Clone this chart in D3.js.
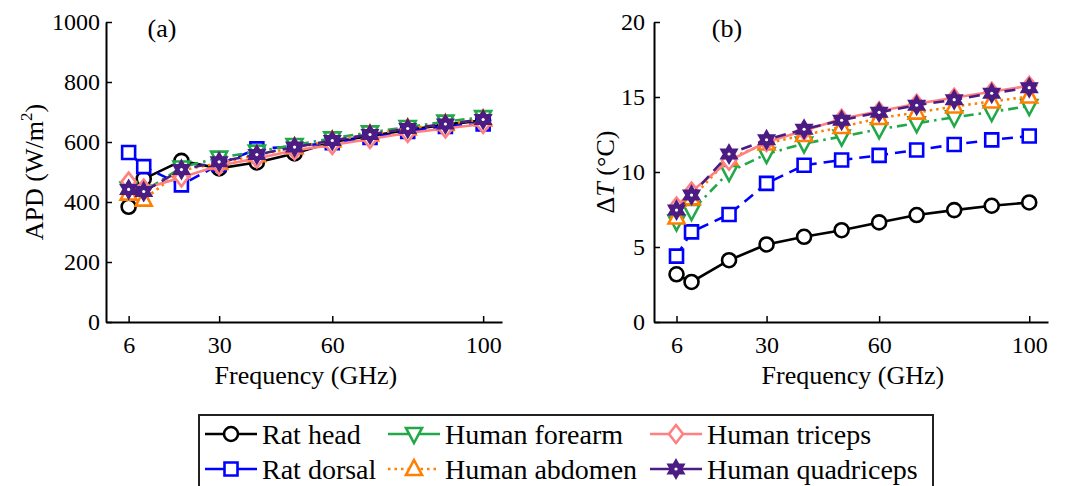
<!DOCTYPE html>
<html>
<head>
<meta charset="utf-8">
<script src="https://cdn.jsdelivr.net/npm/d3@7"></script>
<style>
  body { margin: 0; background: #fff; }
</style>
</head>
<body>
<div class="chart"></div>
<script>
// frequencies (GHz)
var freq = [6, 10, 20, 30, 40, 50, 60, 70, 80, 90, 100];
var xTicks = [6, 30, 60, 100];

var names = ["Rat head", "Rat dorsal", "Human forearm", "Human abdomen", "Human triceps", "Human quadriceps"];

// (a) APD, W/m^2
var apdRatHead   = [384, 477, 537, 512, 532, 562, 600, 620, 640, 658, 672];
var apdRatDorsal = [565, 518, 457, 525, 577, 585, 598, 615, 635, 652, 660];
var apdForearm   = [445, 435, 515, 548, 568, 590, 612, 632, 650, 668, 683];
var apdAbdomen   = [428, 408, 505, 530, 556, 582, 605, 625, 645, 660, 675];
var apdTriceps   = [468, 445, 482, 522, 545, 572, 590, 610, 630, 645, 660];
var apdQuad      = [442, 435, 508, 534, 558, 583, 605, 625, 645, 660, 675];

// (b) temperature rise, degC
var dtRatHead   = [3.18, 2.67, 4.12, 5.17, 5.68, 6.12, 6.64, 7.13, 7.46, 7.75, 7.97];
var dtRatDorsal = [4.39, 6.01, 7.17, 9.24, 10.45, 10.8, 11.11, 11.47, 11.83, 12.14, 12.4];
var dtForearm   = [6.7, 7.4, 10.0, 11.2, 11.9, 12.36, 12.85, 13.25, 13.65, 14.0, 14.4];
var dtAbdomen   = [6.97, 8.24, 10.9, 11.9, 12.47, 13.0, 13.6, 13.96, 14.37, 14.7, 15.03];
var dtTriceps   = [7.7, 8.7, 10.75, 12.0, 12.75, 13.55, 14.05, 14.55, 14.95, 15.35, 15.75];
var dtQuad      = [7.46, 8.46, 11.2, 12.15, 12.85, 13.45, 13.98, 14.45, 14.82, 15.25, 15.62];

var styles = [
  { color: "#000000", dash: null,          marker: "circle" },
  { color: "#0000ff", dash: "11,7",        marker: "square" },
  { color: "#21a84a", dash: "10,5,2.5,5",  marker: "triangleDown" },
  { color: "#ff8000", dash: "2.5,4",       marker: "triangleUp" },
  { color: "#ff8080", dash: null,          marker: "diamond" },
  { color: "#4b1c83", dash: "11,7",        marker: "hexagram" }
];

var FONT = "Liberation Serif";

var svgWidth = 1081;
var svgHeight = 486;

var svg = d3.select(".chart")
  .append("svg")
  .attr("width", svgWidth)
  .attr("height", svgHeight);

function markerPath(type) {
  var p = d3.path();
  if (type === "circle") {
    p.arc(0, 0, 7, 0, 2 * Math.PI);
  } else if (type === "square") {
    p.rect(-6.5, -6.5, 13, 13);
  } else if (type === "triangleUp") {
    p.moveTo(0, -9); p.lineTo(8, 6); p.lineTo(-8, 6); p.closePath();
  } else if (type === "triangleDown") {
    p.moveTo(0, 9); p.lineTo(8, -6); p.lineTo(-8, -6); p.closePath();
  } else if (type === "diamond") {
    p.moveTo(0, -9); p.lineTo(7, 0); p.lineTo(0, 9); p.lineTo(-7, 0); p.closePath();
  } else if (type === "hexagram") {
    var ro = 9.5, ri = ro / Math.sqrt(3);
    for (var i = 0; i < 12; i++) {
      var r = i % 2 === 0 ? ro : ri;
      var a = -Math.PI / 2 + i * Math.PI / 6;
      if (i === 0) p.moveTo(r * Math.cos(a), r * Math.sin(a));
      else p.lineTo(r * Math.cos(a), r * Math.sin(a));
    }
    p.closePath();
  }
  return p.toString();
}

function drawMarker(g, type, color, x, y) {
  if (type === "hexagram") {
    g.append("path")
      .attr("d", markerPath(type))
      .attr("transform", `translate(${x},${y})`)
      .attr("fill", color)
      .attr("stroke", color)
      .attr("stroke-width", 1.5);
    g.append("circle")
      .attr("cx", x).attr("cy", y).attr("r", 1.6)
      .attr("fill", "#fff");
  } else {
    g.append("path")
      .attr("d", markerPath(type))
      .attr("transform", `translate(${x},${y})`)
      .attr("fill", "#fff")
      .attr("stroke", color)
      .attr("stroke-width", 2.6);
  }
}

function addText(g, size) {
  return g.append("text")
    .style("font-family", FONT)
    .style("font-size", size + "px")
    .attr("fill", "#000");
}

function drawPanel(opts) {
  var x = d3.scaleLinear().domain([0, 105]).range([opts.left, opts.right]);
  var y = d3.scaleLinear().domain([0, opts.ymax]).range([322, 22]);

  var bottomAxis = d3.axisBottom(x)
    .tickValues(xTicks)
    .tickSizeInner(-6)
    .tickSizeOuter(0)
    .tickPadding(14);
  var leftAxis = d3.axisLeft(y)
    .ticks(5)
    .tickFormat(d3.format("d"))
    .tickSizeInner(-6)
    .tickSizeOuter(0)
    .tickPadding(opts.ypad);

  var gx = svg.append("g")
    .attr("transform", "translate(0,322)")
    .call(bottomAxis);
  var gy = svg.append("g")
    .attr("transform", `translate(${opts.left},0)`)
    .call(leftAxis);

  [gx, gy].forEach(function(g) {
    g.attr("font-family", FONT).attr("font-size", 24);
    g.select(".domain").attr("stroke", "#000").attr("stroke-width", 2);
    g.selectAll(".tick line").attr("stroke", "#000").attr("stroke-width", 1.5);
    g.selectAll(".tick text")
      .style("font-family", FONT)
      .style("font-size", "24px")
      .attr("fill", "#000");
  });

  var lines = svg.append("g");
  var line = d3.line()
    .x(function(d, i) { return x(freq[i]); })
    .y(function(d) { return y(d); });

  opts.series.forEach(function(vals, k) {
    var st = styles[k];
    lines.append("path")
      .attr("d", line(vals))
      .attr("fill", "none")
      .attr("stroke", st.color)
      .attr("stroke-width", 2.6)
      .attr("stroke-dasharray", st.dash);
    vals.forEach(function(v, i) {
      drawMarker(lines, st.marker, st.color, x(freq[i]), y(v));
    });
  });

  addText(svg, 26)
    .attr("x", opts.tagX)
    .attr("y", 37)
    .attr("text-anchor", "middle")
    .text(opts.tag);

  addText(svg, 26)
    .attr("x", (x(6) + x(100)) / 2)
    .attr("y", 384)
    .attr("text-anchor", "middle")
    .text("Frequency (GHz)");

  return addText(svg, 26)
    .attr("transform", `translate(${opts.labelX},172) rotate(-90)`)
    .attr("text-anchor", "middle");
}

var labA = drawPanel({
  left: 106, right: 502, ymax: 1000, ypad: 6, tag: "(a)", tagX: 162, labelX: 43,
  series: [apdRatHead, apdRatDorsal, apdForearm, apdAbdomen, apdTriceps, apdQuad]
});
labA.append("tspan").text("APD (W/m");
labA.append("tspan").attr("dy", -11).style("font-size", "17px").text("2");
labA.append("tspan").attr("dy", 11).text(")");

var labB = drawPanel({
  left: 654, right: 1048, ymax: 20, ypad: 9, tag: "(b)", tagX: 727, labelX: 614,
  series: [dtRatHead, dtRatDorsal, dtForearm, dtAbdomen, dtTriceps, dtQuad]
});
labB.append("tspan").text("\u0394");
labB.append("tspan").style("font-style", "italic").text("T");
labB.append("tspan").text(" (\u00B0C)");

// legend
var legend = svg.append("g");
legend.append("rect")
  .attr("x", 199).attr("y", 415)
  .attr("width", 734).attr("height", 90)
  .attr("fill", "#fff")
  .attr("stroke", "#222")
  .attr("stroke-width", 2);

var colX = [205, 388, 650];
var rowY = [434, 469];

names.forEach(function(name, k) {
  var col = Math.floor(k / 2), row = k % 2;
  var x0 = colX[col], yc = rowY[row];
  var st = styles[k];
  legend.append("line")
    .attr("x1", x0).attr("x2", x0 + 52)
    .attr("y1", yc).attr("y2", yc)
    .attr("stroke", st.color)
    .attr("stroke-width", 2.6)
    .attr("stroke-dasharray", st.dash === "2.5,4" ? st.dash : null);
  drawMarker(legend, st.marker, st.color, x0 + 26, yc);
  addText(legend, 28)
    .attr("x", x0 + 57)
    .attr("y", yc + 10)
    .text(name);
});
</script>
</body>
</html>
